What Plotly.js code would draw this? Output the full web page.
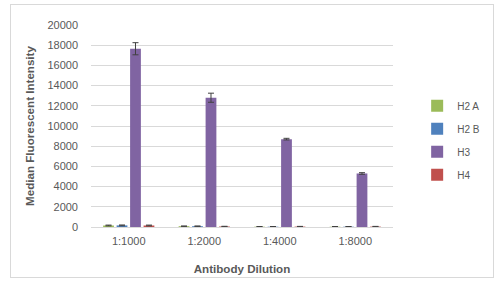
<!DOCTYPE html>
<html><head><meta charset="utf-8">
<script src="https://cdn.plot.ly/plotly-3.0.1.min.js"></script>
<style>html,body{margin:0;padding:0;background:#fff;}
#wrap{position:relative;width:497px;height:284px;}
#frame{position:absolute;left:10px;top:4px;width:482px;height:272px;border:1px solid #d9d9d9;pointer-events:none;}
#chart{position:absolute;left:0;top:0;width:497px;height:284px;}</style>
</head><body>
<div id="wrap"><div id="chart"></div><div id="frame"></div></div>
<script>
const categories = ["1:1000", "1:2000", "1:4000", "1:8000"];
const seriesNames = ["H2 A", "H2 B", "H3", "H4"];
const h2a = [150, 80, 30, 30];
const h2b = [160, 80, 30, 30];
const h3 = [17650, 12800, 8700, 5300];
const h4 = [150, 50, 40, 40];
const h2aErr = [40, 20, 20, 20];
const h2bErr = [40, 20, 20, 20];
const h3Err = [600, 450, 80, 80];
const h4Err = [40, 20, 20, 20];
const yTicks = [0, 2000, 4000, 6000, 8000, 10000, 12000, 14000, 16000, 18000, 20000];
const colors = ["#9bbb59", "#4f81bd", "#8064a2", "#c0504d"];
const values = [h2a, h2b, h3, h4];
const errs = [h2aErr, h2bErr, h3Err, h4Err];
const traces = values.map((v, i) => ({
  type: "bar", x: categories, y: v, name: seriesNames[i],
  legendgroup: "g" + i,
  marker: {color: colors[i]},
  error_y: {type: "data", array: errs[i], visible: true, color: "#404040", thickness: 1, width: 3}
}));
const layout = {
  width: 497, height: 284,
  margin: {l: 91, r: 69, t: 25, b: 57},
  paper_bgcolor: "#fff", plot_bgcolor: "#fff",
  font: {family: "Liberation Sans, Arial, sans-serif", size: 11, color: "#595959"},
  barmode: "group", bargap: 0.286, bargroupgap: 0.2,
  xaxis: {showgrid: false, showline: false, zeroline: false, ticks: "", ticklabelstandoff: 6,
    tickfont: {size: 11, color: "#595959"},
    title: {text: "<b>Antibody Dilution</b>", font: {size: 11.6, color: "#595959"}, standoff: 18}},
  yaxis: {range: [0, 20000], tickvals: yTicks, ticktext: yTicks.map(String),
    showgrid: true, gridcolor: "#d9d9d9", gridwidth: 1, zeroline: true, zerolinecolor: "#d9d9d9",
    showline: false, ticks: "", ticklen: 0, ticklabelstandoff: 12, tickfont: {size: 11, color: "#595959"},
    title: {text: "<b>Median Fluorescent Intensity</b>", font: {size: 11.6, color: "#595959"}, standoff: 10}},
  showlegend: true,
  legend: {x: 1.08, xanchor: "left", y: 0.43, yanchor: "middle", font: {size: 10, color: "#595959"},
    traceorder: "grouped", tracegroupgap: 4, itemwidth: 30, bgcolor: "rgba(0,0,0,0)"}
};
Plotly.newPlot("chart", traces, layout, {displayModeBar: false, staticPlot: true});
</script>
</body></html>
